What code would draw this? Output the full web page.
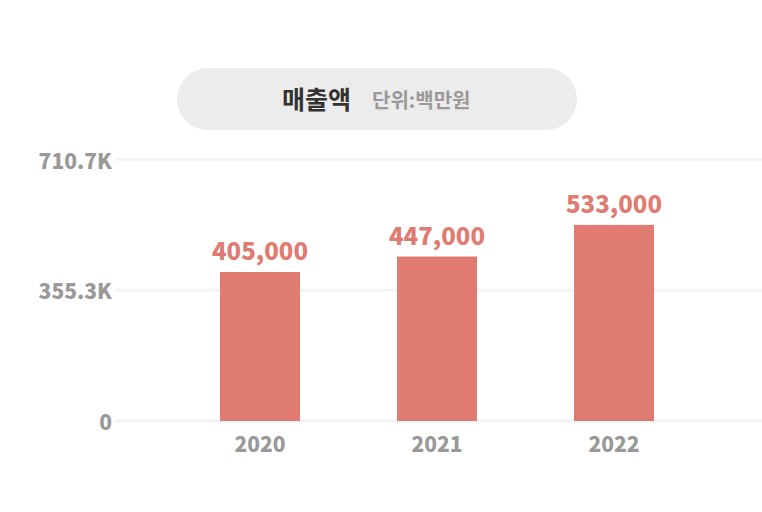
<!DOCTYPE html>
<html>
<head>
<meta charset="utf-8">
<script src="https://cdn.jsdelivr.net/npm/d3@7"></script>
<style>
  html, body { margin: 0; padding: 0; background: #fff; }
  svg text { font-family: "Noto Sans CJK KR", "Noto Sans", sans-serif; }
</style>
</head>
<body>
<div id="chart"></div>
<script>
// data
const years = ['2020', '2021', '2022']
const sales = [405000, 447000, 533000]
const yMax = 710700
const yTicks = [0, 355350, 710700]
const yTickLabels = ['0', '355.3K', '710.7K']
const title = '매출액'
const unit = '단위:백만원'

const width = 762
const height = 512

const svg = d3
  .select('#chart')
  .append('svg')
  .attr('width', width)
  .attr('height', height)

// title pill
svg
  .append('rect')
  .attr('x', 177)
  .attr('y', 68)
  .attr('width', 400)
  .attr('height', 62)
  .attr('rx', 31)
  .attr('fill', '#ececec')

svg
  .append('text')
  .attr('x', 316.5)
  .attr('y', 98)
  .attr('dominant-baseline', 'central')
  .attr('text-anchor', 'middle')
  .attr('font-size', 25)
  .attr('font-weight', 700)
  .attr('fill', '#333')
  .text(title)

svg
  .append('text')
  .attr('x', 372)
  .attr('y', 99)
  .attr('dominant-baseline', 'central')
  .attr('font-size', 20)
  .attr('font-weight', 700)
  .attr('fill', '#9a9a9a')
  .text(unit)

// scales
const y = d3
  .scaleLinear()
  .domain([0, yMax])
  .range([421, 159.5])

const x = d3
  .scaleBand()
  .domain(years)
  .range([171.5, 702.5])
  .paddingInner(0.548)
  .paddingOuter(0.274)

// grid
svg
  .append('g')
  .selectAll('line')
  .data(yTicks)
  .enter()
  .append('line')
  .attr('x1', 115)
  .attr('x2', width)
  .attr('y1', d => y(d))
  .attr('y2', d => y(d))
  .attr('stroke', '#f3f3f3')
  .attr('stroke-width', 3)

// y axis labels
svg
  .append('g')
  .selectAll('text')
  .data(yTicks)
  .enter()
  .append('text')
  .attr('x', 112)
  .attr('y', d => y(d))
  .attr('dominant-baseline', 'central')
  .attr('text-anchor', 'end')
  .attr('font-size', 21)
  .attr('font-weight', 900)
  .attr('fill', '#999')
  .text((d, i) => yTickLabels[i])

// bars
svg
  .append('g')
  .selectAll('rect')
  .data(sales)
  .enter()
  .append('rect')
  .attr('x', (d, i) => x(years[i]))
  .attr('y', d => y(d))
  .attr('width', x.bandwidth())
  .attr('height', d => y(0) - y(d))
  .attr('fill', '#e07b72')

// value labels
svg
  .append('g')
  .selectAll('text')
  .data(sales)
  .enter()
  .append('text')
  .attr('x', (d, i) => x(years[i]) + x.bandwidth() / 2)
  .attr('y', d => y(d) - 12)
  .attr('text-anchor', 'middle')
  .attr('font-size', 24)
  .attr('font-weight', 900)
  .attr('fill', '#e07b72')
  .text(d => d3.format(',')(d))

// x axis labels
svg
  .append('g')
  .selectAll('text')
  .data(years)
  .enter()
  .append('text')
  .attr('x', d => x(d) + x.bandwidth() / 2)
  .attr('y', 452)
  .attr('text-anchor', 'middle')
  .attr('font-size', 21)
  .attr('font-weight', 900)
  .attr('fill', '#999')
  .text(d => d)
</script>
</body>
</html>
